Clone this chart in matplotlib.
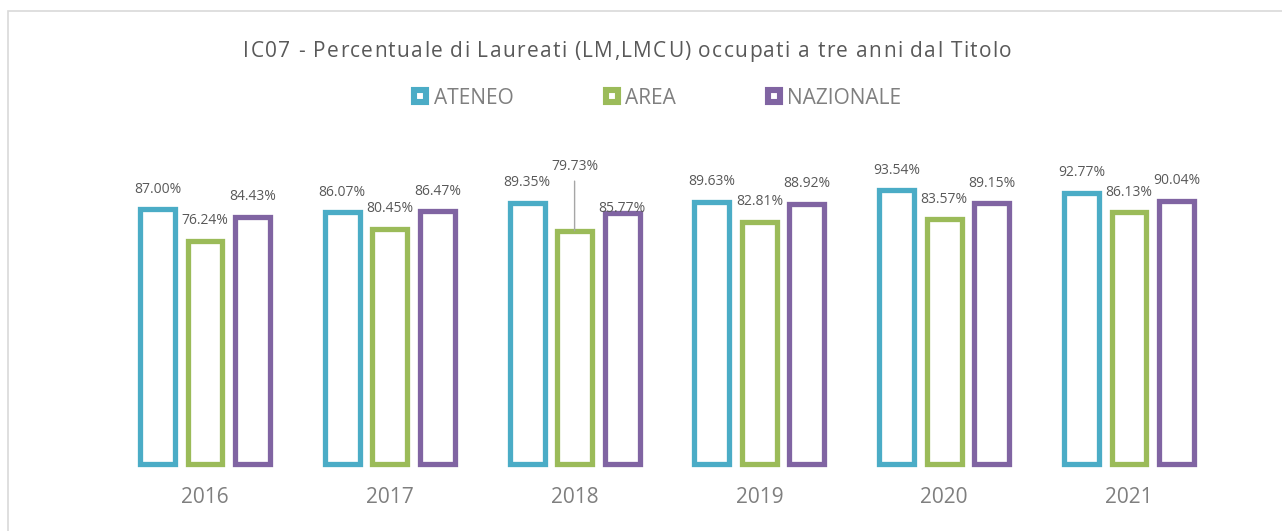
import matplotlib
matplotlib.use("Agg")
import matplotlib.pyplot as plt
from matplotlib.font_manager import findfont, get_font, FontProperties
from matplotlib.lines import Line2D
from matplotlib.patches import Rectangle
import numpy as np

years = ['2016', '2017', '2018', '2019', '2020', '2021']
ateneo = [87.00, 86.07, 89.35, 89.63, 93.54, 92.77]
area = [76.24, 80.45, 79.73, 82.81, 83.57, 86.13]
nazionale = [84.43, 86.47, 85.77, 88.92, 89.15, 90.04]
series_names = ['ATENEO', 'AREA', 'NAZIONALE']
title = 'IC07 - Percentuale di Laureati (LM,LMCU) occupati a tre anni dal Titolo'

colors = ['#4BACC6', '#9BBB59', '#8064A2']
W, H = 1282, 531

plt.rcParams['font.family'] = ['Open Sans', 'DejaVu Sans']

fig = plt.figure(figsize=(W / 100, H / 100), dpi=100)
ax = fig.add_axes([112.6 / W, (H - 463.5) / H, 1108.8 / W, 292 / H])

x = np.arange(len(years))
bar_w = 0.189
step = 0.257
all_series = [ateneo, area, nazionale]
for i, vals in enumerate(all_series):
    xs = x + (i - 1) * step
    ax.bar(xs, vals, bar_w, facecolor='white', edgecolor=colors[i],
           linewidth=3.8, clip_on=False, zorder=2)
    for j, v in enumerate(vals):
        lbl = f'{v:.2f}%'
        if i == 1 and j == 2:
            # label pushed up with leader line
            ax.annotate(lbl, (xs[j], v), xytext=(0, 64), textcoords='offset pixels',
                        ha='center', va='center', fontsize=10, color='#595959',
                        arrowprops=dict(arrowstyle='-', color='#A6A6A6', lw=1,
                                        shrinkA=3, shrinkB=0))
        elif i == 2 and j == 2:
            ax.annotate(lbl, (xs[j], v), xytext=(0, 5), textcoords='offset pixels',
                        ha='center', va='center', fontsize=10, color='#595959', zorder=3)
        else:
            ax.annotate(lbl, (xs[j], v), xytext=(0, 20), textcoords='offset pixels',
                        ha='center', va='center', fontsize=10, color='#595959')

ax.set_xlim(-0.5, len(years) - 0.5)
ax.set_ylim(0, 100)
ax.set_xticks(x)
ax.set_xticklabels(years, fontsize=15, color='#7F7F7F')
ax.tick_params(axis='x', length=0, pad=17)
ax.set_yticks([])
for s in ax.spines.values():
    s.set_visible(False)

# title with letter spacing (Excel style), drawn char by char
font = get_font(findfont(FontProperties(family='Open Sans')))
font.set_size(15, 100)
adv = []
for ch in title:
    g = font.load_char(ord(ch))
    adv.append(g.linearHoriAdvance / 65536)
spacing = 1.3
total = sum(adv) + spacing * (len(title) - 1)
px = 627.5 - total / 2
for ch, a in zip(title, adv):
    if ch != ' ':
        fig.text(px / W, 1 - 57 / H, ch, ha='left', va='baseline',
                 fontsize=15, color='#595959')
    px += a + spacing

handles = [Line2D([], [], linestyle='none', marker='s', markersize=8.6,
                  markeredgewidth=4.4, markerfacecolor='white',
                  markeredgecolor=c) for c in colors]
fig.legend(handles, series_names, loc='center left',
           bbox_to_anchor=(411 / W, 1 - 98 / H), ncol=3, frameon=False,
           fontsize=15, labelcolor='#7F7F7F', handlelength=0.9,
           handletextpad=0.2, columnspacing=4.25, borderpad=0, borderaxespad=0)

fig.add_artist(Rectangle((8 / W, -0.1), 1.2, 1.1 - 11 / H, transform=fig.transFigure,
                         fill=False, edgecolor='#D9D9D9', linewidth=1.2))

fig.savefig('out.png', dpi=100)
